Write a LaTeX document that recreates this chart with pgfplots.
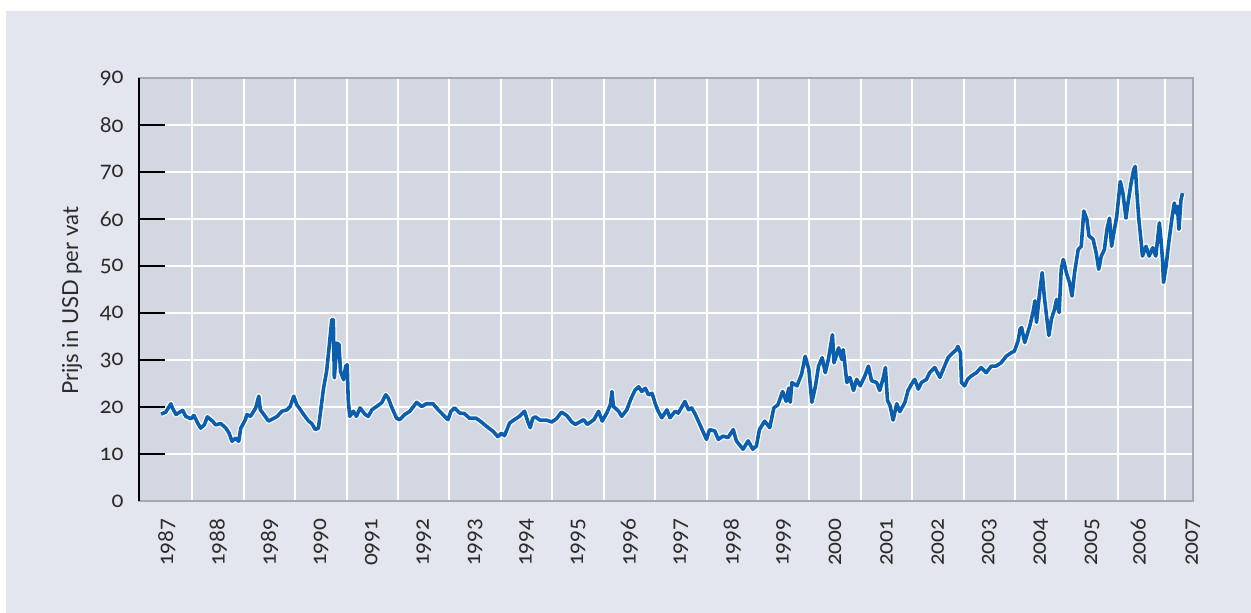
\documentclass[border=0pt]{standalone}
\usepackage{fontspec}
\setmainfont{Lato}[Numbers=OldStyle]
\usepackage{pgfplots}
\usepackage{pgfplotstable}
\pgfplotsset{compat=1.18}

\definecolor{outerbg}{HTML}{E3E6EE}
\definecolor{plotbg}{HTML}{D3D7E1}
\definecolor{oilblue}{HTML}{0B5FAE}
\definecolor{framegray}{HTML}{A7A8AD}
\definecolor{txt}{HTML}{2A2A2A}

% tick labels as text, so that the old-style figures of the text font are used
\newcommand\tl[1]{\mbox{#1}}

% Brent, USD per vat
\pgfplotstableread{
year price
1987.39 18.5
1987.48 18.9
1987.58 20.7
1987.61 19.8
1987.68 18.4
1987.81 19.3
1987.87 18.0
1987.97 17.5
1988.03 18.2
1988.10 16.6
1988.16 15.5
1988.23 16.2
1988.29 17.9
1988.39 17.0
1988.45 16.2
1988.55 16.5
1988.65 15.5
1988.71 14.5
1988.77 12.7
1988.84 13.4
1988.90 12.7
1988.94 15.5
1989.03 17.3
1989.06 18.4
1989.13 18.0
1989.23 19.8
1989.29 22.3
1989.32 19.4
1989.39 18.4
1989.48 17.0
1989.55 17.4
1989.65 18.0
1989.74 19.1
1989.84 19.4
1989.90 20.1
1989.97 22.3
1990.03 20.5
1990.10 19.4
1990.19 18.0
1990.26 17.0
1990.32 16.5
1990.39 15.2
1990.45 15.5
1990.48 18.0
1990.55 24.0
1990.61 27.6
1990.66 32.9
1990.71 38.6
1990.74 38.6
1990.76 26.2
1990.81 33.6
1990.85 33.3
1990.88 27.6
1990.94 25.8
1990.98 28.7
1991.01 29.0
1991.03 21.6
1991.06 18.0
1991.13 19.1
1991.19 18.0
1991.26 19.8
1991.36 18.4
1991.42 18.0
1991.49 19.4
1991.58 20.1
1991.68 20.9
1991.76 22.6
1991.81 21.9
1991.87 20.1
1991.97 17.6
1992.03 17.3
1992.13 18.4
1992.23 19.1
1992.36 21.0
1992.46 20.1
1992.55 20.7
1992.68 20.7
1992.78 19.4
1992.87 18.4
1992.97 17.3
1993.03 19.1
1993.10 19.8
1993.20 18.7
1993.29 18.6
1993.39 17.6
1993.52 17.6
1993.61 16.9
1993.72 15.9
1993.85 14.8
1993.94 13.7
1994.01 14.4
1994.07 13.9
1994.17 16.6
1994.26 17.3
1994.36 18.0
1994.46 19.1
1994.52 17.0
1994.57 15.6
1994.62 17.6
1994.67 17.9
1994.76 17.2
1994.89 17.2
1994.99 16.8
1995.08 17.5
1995.18 18.9
1995.28 18.2
1995.38 16.8
1995.45 16.3
1995.61 17.3
1995.68 16.3
1995.81 17.3
1995.90 19.1
1995.97 17.0
1996.06 18.7
1996.13 20.5
1996.16 23.3
1996.19 20.1
1996.29 19.1
1996.35 18.0
1996.45 19.4
1996.52 21.5
1996.61 23.6
1996.68 24.3
1996.74 23.3
1996.81 24.0
1996.87 22.6
1996.94 22.9
1997.00 20.8
1997.06 19.1
1997.13 17.7
1997.23 19.4
1997.29 17.7
1997.39 19.1
1997.45 18.7
1997.58 21.2
1997.65 19.4
1997.71 19.8
1997.77 18.7
1997.87 16.3
1998.00 13.1
1998.06 15.2
1998.16 14.9
1998.23 13.1
1998.32 13.8
1998.42 13.5
1998.52 15.2
1998.58 12.8
1998.71 11.0
1998.81 12.8
1998.90 11.0
1998.97 11.7
1999.03 15.2
1999.13 17.0
1999.23 15.6
1999.31 19.8
1999.39 20.5
1999.48 23.3
1999.55 21.2
1999.60 24.0
1999.63 21.0
1999.66 25.2
1999.76 24.5
1999.85 27.0
1999.92 30.8
1999.99 28.0
2000.05 21.0
2000.12 24.5
2000.18 28.7
2000.25 30.5
2000.31 27.3
2000.37 30.1
2000.45 35.4
2000.48 29.4
2000.57 32.6
2000.63 30.1
2000.66 32.2
2000.73 25.2
2000.79 26.3
2000.86 23.5
2000.92 25.9
2000.99 24.5
2001.08 26.6
2001.15 28.7
2001.21 25.6
2001.31 25.2
2001.37 23.5
2001.44 26.3
2001.48 28.4
2001.52 21.4
2001.57 20.3
2001.63 17.2
2001.70 20.7
2001.76 19.0
2001.86 21.0
2001.92 23.5
2001.99 24.9
2002.05 25.9
2002.12 23.8
2002.18 25.2
2002.28 25.9
2002.34 27.3
2002.44 28.4
2002.54 26.3
2002.63 28.7
2002.70 30.5
2002.76 31.2
2002.86 32.2
2002.89 32.9
2002.94 31.5
2002.96 25.2
2003.02 24.5
2003.08 25.9
2003.15 26.6
2003.25 27.3
2003.34 28.4
2003.44 27.3
2003.54 28.7
2003.63 28.7
2003.73 29.4
2003.83 30.8
2003.92 31.5
2003.99 31.9
2004.06 34.0
2004.10 36.6
2004.13 36.9
2004.19 33.7
2004.29 37.3
2004.35 40.1
2004.39 42.6
2004.42 38.0
2004.48 44.3
2004.53 48.6
2004.57 43.6
2004.61 39.8
2004.66 35.2
2004.71 38.7
2004.77 40.8
2004.81 42.9
2004.86 40.1
2004.90 49.3
2004.94 51.4
2005.00 48.6
2005.06 46.5
2005.11 43.6
2005.16 48.6
2005.23 53.5
2005.29 54.2
2005.34 61.7
2005.40 59.9
2005.44 56.4
2005.52 55.7
2005.58 52.8
2005.63 49.3
2005.68 52.1
2005.74 53.5
2005.79 57.8
2005.84 60.2
2005.88 54.2
2005.94 58.1
2005.98 60.6
2006.05 68.0
2006.10 65.5
2006.16 60.2
2006.19 62.7
2006.26 67.7
2006.31 70.5
2006.34 71.2
2006.37 65.9
2006.41 59.9
2006.45 55.7
2006.48 52.1
2006.55 54.2
2006.61 52.1
2006.68 53.9
2006.74 52.1
2006.81 59.2
2006.84 55.7
2006.87 51.4
2006.89 46.5
2006.94 50.0
2007.00 55.7
2007.06 60.6
2007.10 63.4
2007.13 61.3
2007.16 62.7
2007.19 57.8
2007.23 64.1
2007.26 65.5
}\brent

\begin{document}
\begin{tikzpicture}
% white page and light panel behind the chart
\fill[white] (-69.5pt,-56pt) rectangle (556pt,250.5pt);
\fill[outerbg] (-66.5pt,-56pt) rectangle (556pt,245pt);
\begin{axis}[
    at={(0pt,0pt)}, anchor=south west,
    scale only axis,
    width=526.9pt, height=211.5pt,
    xmin=1986.96, xmax=2007.46,
    ymin=0, ymax=90,
    axis background/.style={fill=plotbg},
    axis line style={framegray, line width=1pt},
    tick align=inside,
    major tick length=13pt,
    minor tick length=0pt,
    ytick pos=left,
    ytick={0,10,...,90},
    yticklabels={\tl{0},\tl{10},\tl{20},\tl{30},\tl{40},\tl{50},\tl{60},\tl{70},\tl{80},\tl{90}},
    y tick style={black, line width=1pt},
    ymajorgrids,
    major grid style={white, line width=1pt},
    xtick={1987.5,1988.5,1989.5,1990.5,1991.5,1992.5,1993.5,1994.5,1995.5,1996.5,1997.5,1998.5,1999.5,2000.5,2001.5,2002.5,2003.5,2004.5,2005.5,2006.4,2007.46},
    xticklabels={\tl{1987},\tl{1988},\tl{1989},\tl{1990},\tl{0991},\tl{1992},\tl{1993},\tl{1994},\tl{1995},\tl{1996},\tl{1997},\tl{1998},\tl{1999},\tl{2000},\tl{2001},\tl{2002},\tl{2003},\tl{2004},\tl{2005},\tl{2006},\tl{2007}},
    x tick style={draw=none},
    minor xtick={1988,1989,1990,1991,1992,1993,1994,1995,1996,1997,1998,1999,2000,2001,2002,2003,2004,2005,2006,2006.91},
    xminorgrids,
    minor grid style={white, line width=1pt},
    tick label style={font=\fontsize{11}{13}\selectfont, text=txt},
    xticklabel style={rotate=90, anchor=east, inner sep=0pt},
    xticklabel shift=8.5pt,
    yticklabel style={anchor=east, inner sep=0pt},
    yticklabel shift=7.5pt,
    ylabel={Prijs in USD per vat},
    ylabel style={font=\fontsize{11}{13}\selectfont, text=txt,
        at={(axis description cs:-0.0636,0.473)}, anchor=center},
    after end axis/.code={
        \draw[black, line width=1pt] (rel axis cs:0,0) -- (rel axis cs:0,1);
    },
]
\addplot[white, line width=3pt, line join=round] table[x=year, y=price] {\brent};
\addplot[oilblue, line width=1.8pt, line join=round] table[x=year, y=price] {\brent};
\end{axis}
\end{tikzpicture}
\end{document}
